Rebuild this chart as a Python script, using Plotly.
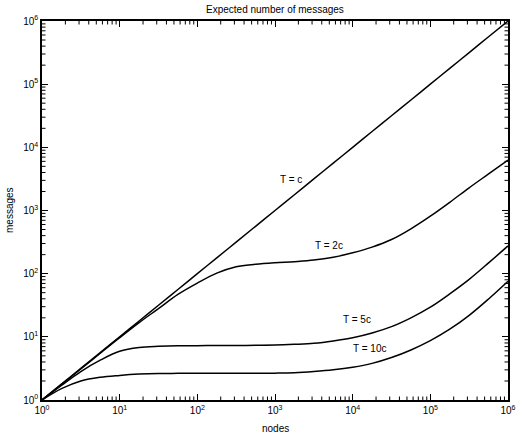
import math
import plotly.graph_objects as go

# Network sizes at which the expected message counts are sampled (quarter decades)
nodes = [1, 1.78, 3.16, 5.62, 10, 17.8, 31.6, 56.2, 100, 178, 316, 562,
         1000, 1778, 3162, 5623, 10000, 17783, 31623, 56234,
         100000, 177828, 316228, 562341, 1000000]

# Expected number of messages for each timeout setting
msgs_T_c = [1, 1.78, 3.16, 5.62, 10, 17.8, 31.6, 56.2, 100, 178, 316, 562,
            1000, 1778, 3162, 5623, 10000, 17783, 31623, 56234,
            100000, 177828, 316228, 562341, 1000000]
msgs_T_2c = [1, 1.77, 3.1, 5.5, 9.7, 16.8, 28, 47, 71, 102, 129, 141,
             149, 155, 164, 182, 214, 263, 347, 513,
             813, 1350, 2290, 3800, 6300]
msgs_T_5c = [1, 1.70, 2.82, 4.27, 5.9, 6.76, 7.08, 7.24, 7.24, 7.3, 7.3, 7.35,
             7.4, 7.6, 7.9, 8.6, 9.66, 11.5, 14.5, 20,
             29.5, 47.9, 81.3, 148, 275]
msgs_T_10c = [1, 1.51, 2.0, 2.29, 2.45, 2.57, 2.63, 2.64, 2.65, 2.65, 2.65, 2.65,
              2.66, 2.7, 2.82, 3.0, 3.3, 3.8, 4.7, 6.2,
              8.7, 13.2, 21.9, 39.8, 75.9]

series = [msgs_T_c, msgs_T_2c, msgs_T_5c, msgs_T_10c]

# Curve labels: (text, log10 nodes, log10 messages)
labels = [("T = c", 3.2, 3.49), ("T = 2c", 3.7, 2.44),
          ("T = 5c", 4.05, 1.28), ("T = 10c", 4.22, 0.81)]

LOG_MIN, LOG_MAX = 0, 6
decades = list(range(LOG_MIN, LOG_MAX + 1))
tick_text = [f"10<sup>{d}</sup>" for d in decades]
minor_vals = [m * 10 ** d for d in range(LOG_MIN, LOG_MAX) for m in range(2, 10)]

FONT = "Liberation Sans, Arial, sans-serif"

fig = go.Figure()
for ys in series:
    fig.add_trace(go.Scatter(x=nodes, y=ys, mode="lines",
                             line=dict(color="black", width=1.5, shape="spline",
                                       smoothing=1.0),
                             showlegend=False, hoverinfo="skip"))

for text, lx, ly in labels:
    fig.add_annotation(x=lx, y=ly, text=text, showarrow=False,
                       font=dict(family=FONT, size=10, color="black"))

axis_common = dict(
    type="log", range=[LOG_MIN, LOG_MAX], tickmode="array",
    tickvals=[10 ** d for d in decades], ticktext=tick_text,
    ticks="inside", ticklen=6, tickwidth=1.2, tickcolor="black",
    showline=True, linecolor="black", linewidth=1.5, mirror="allticks",
    showgrid=False, zeroline=False,
    tickfont=dict(family=FONT, size=10, color="black"),
)
fig.update_xaxes(**axis_common)
fig.update_yaxes(**axis_common)

# Minor log ticks (2..9 in each decade) on all four sides of the frame
MINOR_LEN = 3.5
tick_line = dict(color="black", width=1)
for v in minor_vals:
    frac = (math.log10(v) - LOG_MIN) / (LOG_MAX - LOG_MIN)
    for anchor, sign in ((0, 1), (1, -1)):
        fig.add_shape(type="line", xref="x domain", yref="y domain",
                      x0=frac, x1=frac, ysizemode="pixel", yanchor=anchor,
                      y0=0, y1=sign * MINOR_LEN, line=tick_line)
        fig.add_shape(type="line", xref="x domain", yref="y domain",
                      y0=frac, y1=frac, xsizemode="pixel", xanchor=anchor,
                      x0=0, x1=sign * MINOR_LEN, line=tick_line)

fig.add_annotation(xref="paper", yref="paper", x=0.5, y=1, yanchor="bottom",
                   yshift=4, text="Expected number of messages", showarrow=False,
                   font=dict(family=FONT, size=10, color="black"))
fig.add_annotation(xref="paper", yref="paper", x=0.5, y=0, yanchor="top",
                   yshift=-21, text="nodes", showarrow=False,
                   font=dict(family=FONT, size=10, color="black"))
fig.add_annotation(xref="paper", yref="paper", x=0, y=0.5, xanchor="right",
                   xshift=-25, text="messages", textangle=-90, showarrow=False,
                   font=dict(family=FONT, size=10, color="black"))

fig.update_layout(
    width=523, height=434,
    margin=dict(l=42, r=7, t=21, b=34),
    paper_bgcolor="white", plot_bgcolor="white",
    font=dict(family=FONT, size=10, color="black"),
)

fig.write_html("out.html")
